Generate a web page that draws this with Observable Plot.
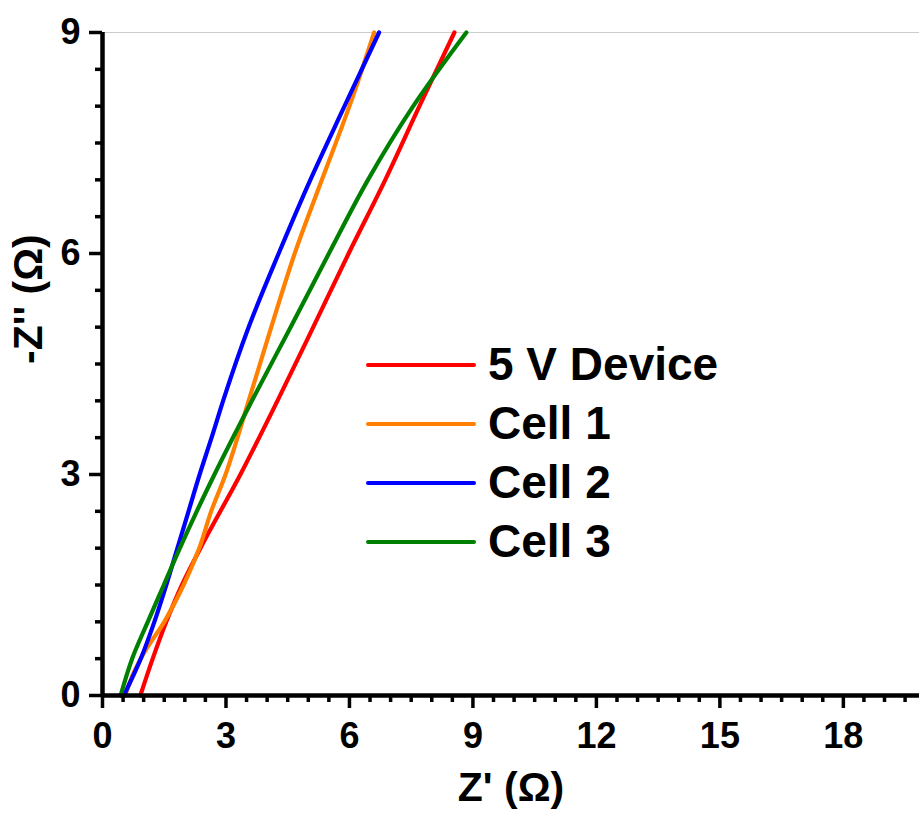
<!DOCTYPE html>
<html>
<head>
<meta charset="utf-8">
<script src="https://cdn.jsdelivr.net/npm/d3@7"></script>
<script src="https://cdn.jsdelivr.net/npm/@observablehq/plot@0.6"></script>
<style>
  html, body { margin: 0; padding: 0; background: #fff; }
  #wrap { position: relative; width: 919px; height: 821px; font-family: "Liberation Sans", Arial, sans-serif; }
  #legend { position: absolute; left: 366px; top: 335px; }
  .row { display: flex; align-items: center; height: 59px; }
  .row svg { display: block; margin-right: 12px; }
  .row span { font-size: 46px; font-weight: bold; color: #000; line-height: 59px; white-space: nowrap; }
</style>
</head>
<body>
<div id="wrap"><div id="legend"></div></div>
<script>
// Series names and colours
const seriesNames = ["5 V Device", "Cell 1", "Cell 2", "Cell 3"];
const seriesColors = ["#ff0000", "#ff8000", "#0000ff", "#008000"];

// Nyquist points: [Z' (Ω), -Z'' (Ω)]
const device5V = [[0.92,0],[1.22,0.5],[1.55,1.0],[1.93,1.5],[2.38,2.0],[3.35,3.0],[4.25,4.0],[5.12,5.0],[5.98,6.0],[6.87,7.0],[7.70,8.0],[8.55,9.0]];
const cell1 = [[0.55,0],[0.75,0.3],[1.00,0.57],[1.50,1.0],[1.97,1.5],[2.35,2.0],[2.64,2.5],[2.99,3.0],[3.28,3.5],[3.55,4.0],[4.10,5.0],[4.67,6.0],[5.33,7.0],[6.00,8.0],[6.60,9.0]];
const cell2 = [[0.52,0],[0.93,0.5],[1.26,1.0],[1.55,1.5],[1.82,2.0],[2.09,2.5],[2.36,3.0],[2.65,3.5],[2.93,4.0],[3.55,5.0],[4.28,6.0],[5.05,7.0],[5.88,8.0],[6.72,9.0]];
const cell3 = [[0.44,0],[0.72,0.5],[1.10,1.0],[1.49,1.5],[1.88,2.0],[2.29,2.5],[2.72,3.0],[3.63,4.0],[4.57,5.0],[5.50,6.0],[6.45,7.0],[7.55,8.0],[8.84,9.0]];
const seriesData = [device5V, cell1, cell2, cell3];

// Axis ticks
const xMajor = [0, 3, 6, 9, 12, 15, 18];
const yMajor = [0, 3, 6, 9];
const xMinor = d3.range(0, 20, 0.5).filter(v => v % 3 !== 0);
const yMinor = d3.range(0, 9, 0.5).filter(v => v % 3 !== 0);
const xTitle = "Z' (Ω)";
const yTitle = "-Z'' (Ω)";

const rows = seriesData.flatMap((pts, i) => pts.map(([x, y]) => ({series: seriesNames[i], x, y})));

const font = {fontFamily: "Liberation Sans, Arial, sans-serif", fontWeight: "bold"};

const chart = Plot.plot({
  width: 919,
  height: 821,
  marginLeft: 102,
  marginRight: 0,
  marginTop: 32,
  marginBottom: 126,
  style: {fontFamily: "Liberation Sans, Arial, sans-serif", background: "#fff", color: "#000", overflow: "visible"},
  x: {domain: [0, 19.85], axis: null},
  y: {domain: [0, 9], axis: null},
  color: {domain: seriesNames, range: seriesColors},
  marks: [
    Plot.ruleY([9], {stroke: "#cccccc", strokeWidth: 1.2}),
    Plot.line(rows, {x: "x", y: "y", z: "series", stroke: "series", strokeWidth: 4.2, curve: "monotone-y"}),
    Plot.axisX(xMinor, {tickSize: 7, strokeWidth: 3.5, tickFormat: () => "", label: null}),
    Plot.axisY(yMinor, {tickSize: 7, strokeWidth: 3.5, tickFormat: () => "", label: null}),
    Plot.axisX(xMajor, {tickSize: 13, tickPadding: 14, strokeWidth: 3.5, fontSize: 36, ...font, tickFormat: d3.format("d"), label: null}),
    Plot.axisY(yMajor, {tickSize: 13, tickPadding: 9, strokeWidth: 3.5, fontSize: 36, ...font, tickFormat: d3.format("d"), label: null}),
    Plot.ruleY([0], {strokeWidth: 4.5, stroke: "#000"}),
    Plot.ruleX([0], {strokeWidth: 4.5, stroke: "#000"}),
    Plot.text([xTitle], {frameAnchor: "bottom", dy: 105, text: d => d, fontSize: 41, ...font, fill: "#000"}),
    Plot.text([yTitle], {frameAnchor: "left", dx: -74, rotate: -90, text: d => d, fontSize: 41, ...font, fill: "#000"})
  ]
});

const wrap = document.getElementById("wrap");
wrap.insertBefore(chart, wrap.firstChild);

const legend = document.getElementById("legend");
seriesNames.forEach((name, i) => {
  const row = document.createElement("div");
  row.className = "row";
  row.innerHTML = `<svg width="110" height="6"><line x1="2" y1="3" x2="108" y2="3" stroke="${seriesColors[i]}" stroke-width="4" stroke-linecap="round"/></svg><span>${name}</span>`;
  legend.appendChild(row);
});
</script>
</body>
</html>
